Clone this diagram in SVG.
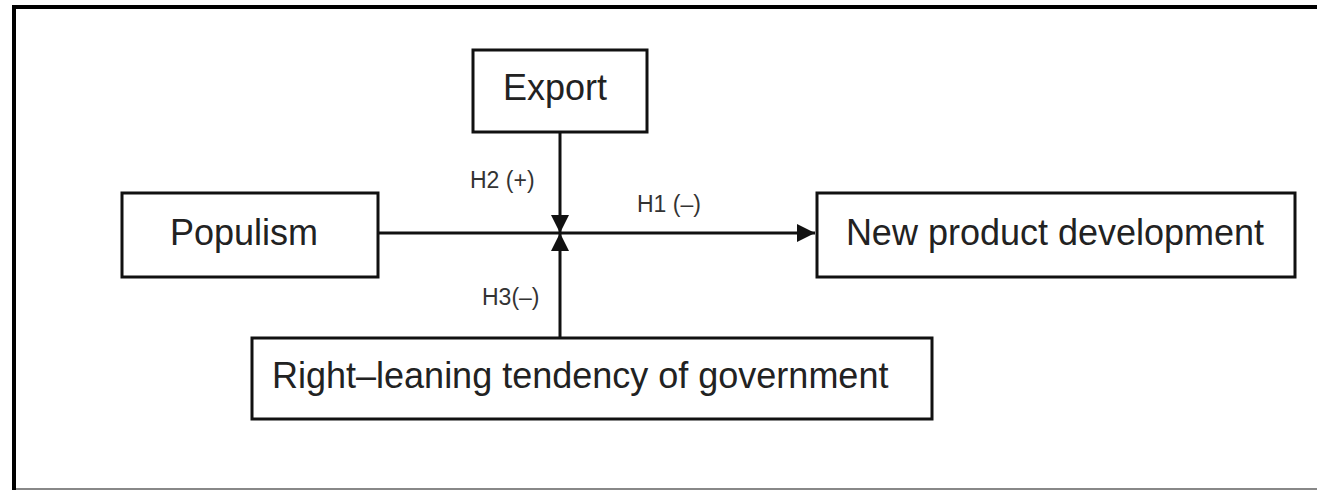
<svg xmlns="http://www.w3.org/2000/svg" width="1317" height="490" viewBox="0 0 1317 490">
<style>
.box{fill:#fff;stroke:#111;stroke-width:3}
.t{font-family:"Liberation Sans",Arial,sans-serif;font-size:36px;fill:#222}
.l{font-family:"Liberation Sans",Arial,sans-serif;font-size:23px;fill:#333}
.c{stroke:#111;stroke-width:3;fill:none}
</style>
<defs>
<marker id="ah" viewBox="0 0 10 10" refX="10" refY="5" markerWidth="6" markerHeight="6" markerUnits="strokeWidth" orient="auto">
<path d="M0,0 L10,5 L0,10 z" fill="#111"/>
</marker>
</defs>
<rect x="0" y="0" width="1317" height="490" fill="#fff"/>
<g id="frame">
<rect x="12" y="5" width="1305" height="4" fill="#000"/>
<rect x="12" y="5" width="4" height="485" fill="#000"/>
<rect x="16" y="488" width="1301" height="2" fill="#888"/>
</g>
<g id="connectors">
<line class="c" x1="378" y1="233" x2="815" y2="233" marker-end="url(#ah)"/>
<line class="c" x1="560" y1="132" x2="560" y2="233" marker-end="url(#ah)"/>
<line class="c" x1="560" y1="338" x2="560" y2="233" marker-end="url(#ah)"/>
<text class="l" x="470" y="188">H2 (+)</text>
<text class="l" x="637" y="212">H1 (–)</text>
<text class="l" x="482" y="305">H3(–)</text>
</g>
<g id="export">
<rect class="box" x="473" y="50" width="174" height="82"/>
<text class="t" x="555" y="100" text-anchor="middle">Export</text>
</g>
<g id="populism">
<rect class="box" x="122" y="193" width="256" height="84"/>
<text class="t" x="244" y="245" text-anchor="middle">Populism</text>
</g>
<g id="npd">
<rect class="box" x="817" y="193" width="478" height="84"/>
<text class="t" x="1055" y="245" text-anchor="middle">New product development</text>
</g>
<g id="right">
<rect class="box" x="252" y="338" width="680" height="81"/>
<text class="t" x="272" y="388">Right–leaning tendency of government</text>
</g>
</svg>
